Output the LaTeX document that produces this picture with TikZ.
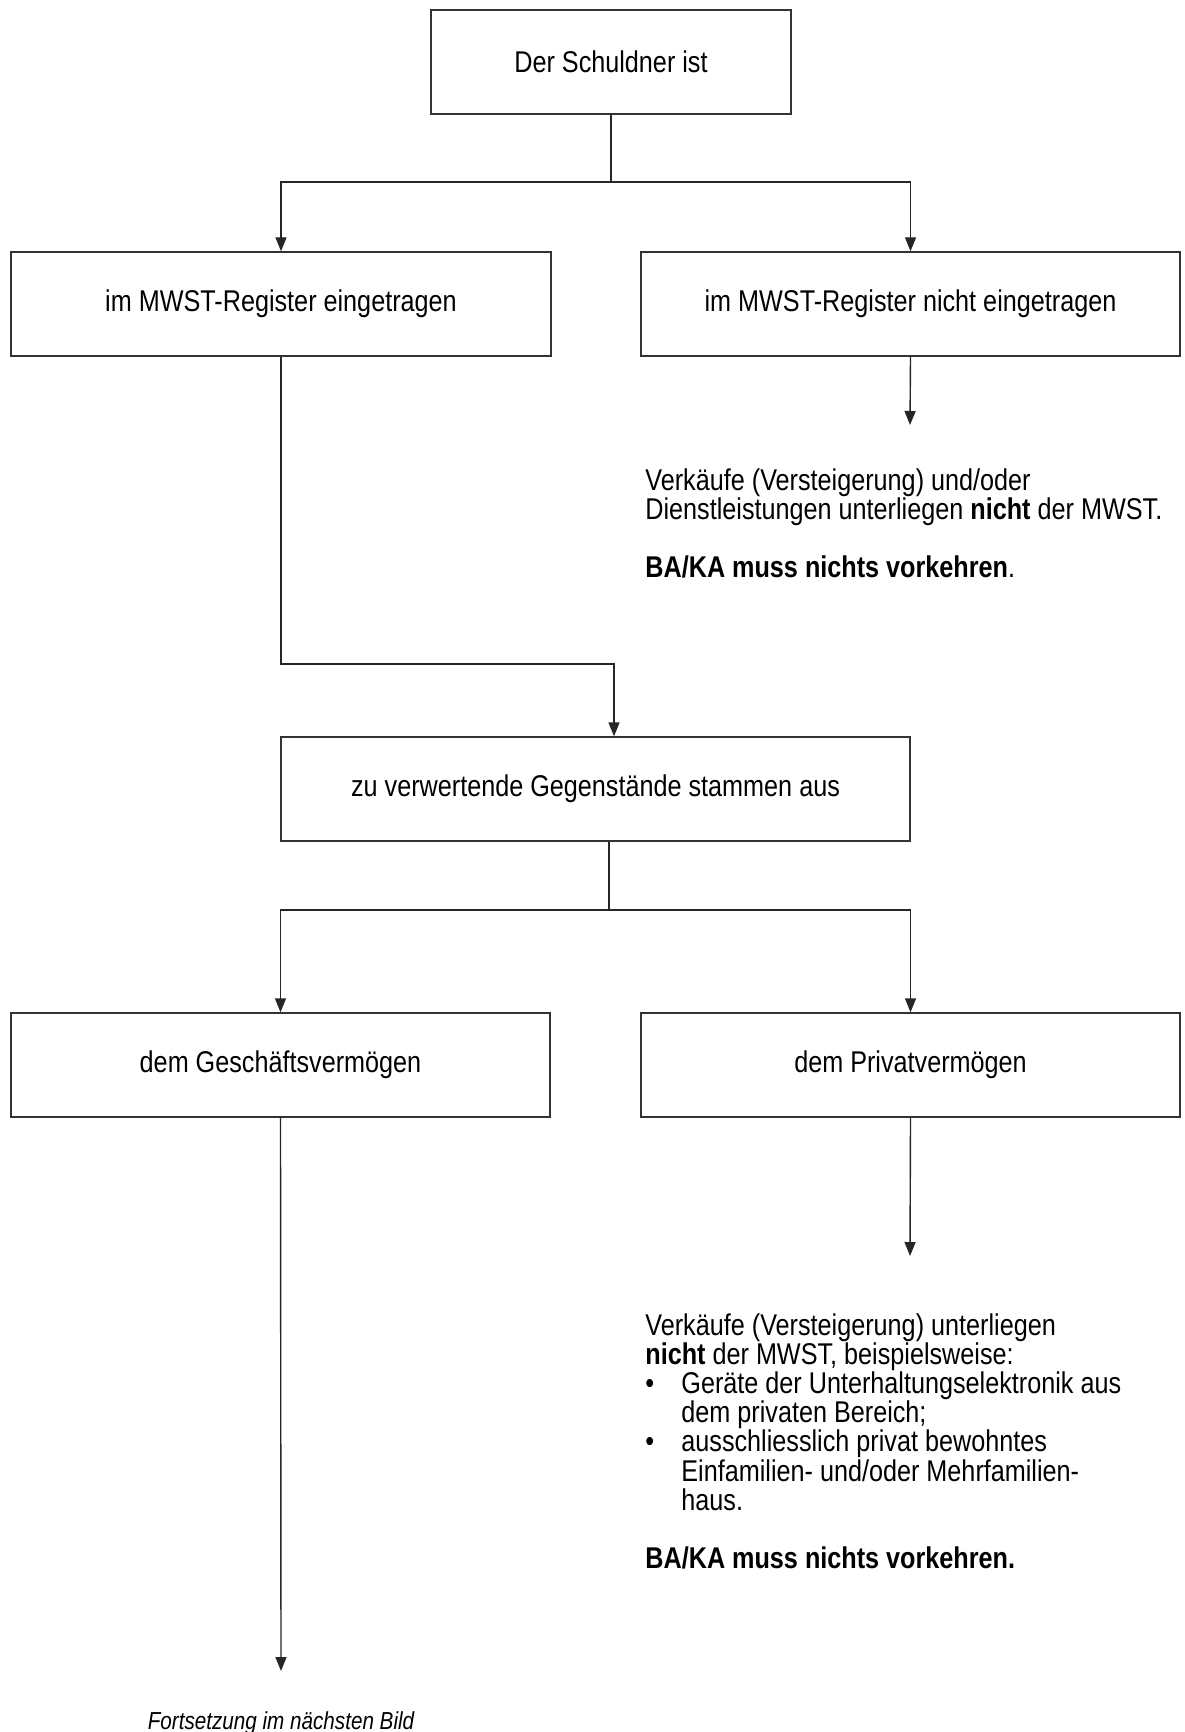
\documentclass[tikz,border=0pt]{standalone}
\usepackage{fontspec}
\setmainfont{Liberation Sans}[FakeStretch=0.84]
\usetikzlibrary{arrows.meta}
\begin{document}
\begin{tikzpicture}[x=0.5pt,y=-0.5pt,
  box/.style={draw=black!80,line width=0.7pt,minimum height=52pt,inner sep=0pt,
    font=\fontsize{15}{17}\selectfont},
  conn/.style={draw=black!85,line width=0.7pt},
  arr/.style={conn,-{Triangle[length=7pt,width=5.5pt]}},
  txt/.style={align=left,inner sep=0pt,anchor=north west,
    font=\fontsize{15}{14.6}\selectfont}]
\useasboundingbox (0,0) rectangle (1184,1732);

\node[box,minimum width=180pt] (top) at (611,62) {Der Schuldner ist};
\node[box,minimum width=270pt] (left1) at (281,304) {im MWST-Register eingetragen};
\node[box,minimum width=269.5pt] (right1) at (910.5,304) {im MWST-Register nicht eingetragen};
\node[box,minimum width=314.5pt] (mid) at (595.5,789) {zu verwertende Gegenstände stammen aus};
\node[box,minimum width=269.5pt] (left2) at (280.5,1065) {dem Geschäftsvermögen};
\node[box,minimum width=269.5pt] (right2) at (910.5,1065) {dem Privatvermögen};

\node[txt] (t1) at (645,468) {Verkäufe (Versteigerung) und/oder\\
Dienstleistungen unterliegen \textbf{nicht} der MWST.\\[14.6pt]
\textbf{BA/KA muss nichts vorkehren}.};

\node[txt] (t2) at (645,1313) {Verkäufe (Versteigerung) unterliegen\\
\textbf{nicht} der MWST, beispielsweise:\\
\makebox[18pt][l]{•}Geräte der Unterhaltungselektronik aus\\
\hspace*{18pt}dem privaten Bereich;\\
\makebox[18pt][l]{•}ausschliesslich privat bewohntes\\
\hspace*{18pt}Einfamilien- und/oder Mehrfamilien-\\
\hspace*{18pt}haus.\\[14.6pt]
\textbf{BA/KA muss nichts vorkehren.}};

\node[inner sep=0pt,font=\fontsize{12.3}{13}\selectfont\itshape] (fort) at (281,1723) {Fortsetzung im nächsten Bild};

\coordinate (j1) at (611,182);
\coordinate (e1) at (910,425);
\coordinate (c1) at (614,664);
\coordinate (j2) at (609,910);
\coordinate (e2) at (910,1256);
\coordinate (e3) at (281,1671);

\draw[conn] (top.south -| j1) -- (j1);
\draw[arr] (j1) -| (left1.north);
\draw[arr] (j1) -| (right1.north);
\draw[arr] (right1.south) -- (e1);
\draw[arr] (left1.south) |- (c1) -- (c1 |- mid.north);
\draw[conn] (j2 |- mid.south) -- (j2);
\draw[arr] (j2) -| (left2.north);
\draw[arr] (j2) -| (right2.north);
\draw[arr] (right2.south) -- (e2);
\draw[arr] (left2.south) -- (e3);
\end{tikzpicture}
\end{document}
